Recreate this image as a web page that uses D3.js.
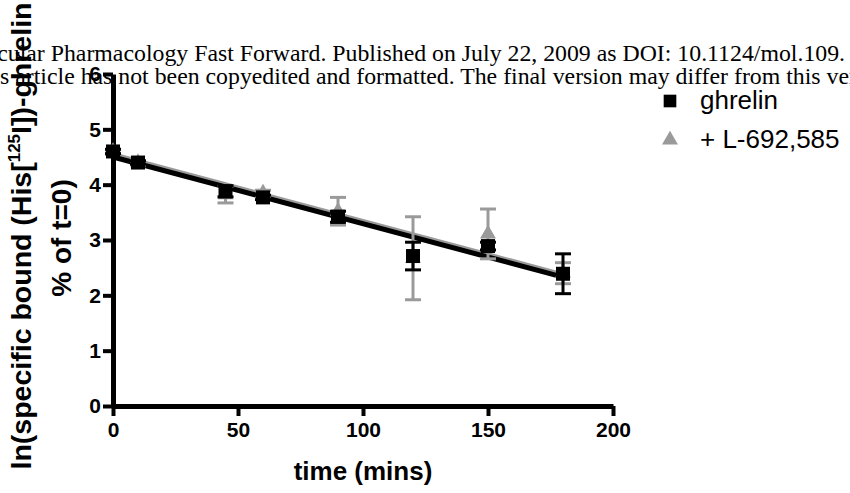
<!DOCTYPE html>
<html>
<head>
<meta charset="utf-8">
<script src="https://cdn.jsdelivr.net/npm/d3@7"></script>
<style>
  body { margin: 0; background: #fff; }
  svg { display: block; }
  text { font-family: "Liberation Sans", Arial, sans-serif; }
</style>
</head>
<body>
<script>
// time points (mins)
let times = [0, 10, 45, 60, 90, 120, 150, 180];
// ghrelin alone: ln(% bound) and error
let ghrelinMean = [4.60, 4.40, 3.88, 3.77, 3.42, 2.71, 2.89, 2.39];
let ghrelinErr = [0.04, 0.03, 0.10, 0.04, 0.10, 0.25, 0.07, 0.36];
// + L-692,585
let l692Mean = [4.60, 4.40, 3.82, 3.85, 3.52, 2.67, 3.11, 2.40];
let l692Err = [0.03, 0.03, 0.15, 0.05, 0.25, 0.75, 0.45, 0.19];
// fitted lines [start, end]
let fitTimes = [0, 180];
let ghrelinFit = [4.50, 2.33];
let l692Fit = [4.54, 2.37];

let xTicks = [0, 50, 100, 150, 200];
let yTicks = [0, 1, 2, 3, 4, 5, 6];
let legendLabels = ['ghrelin', '+ L-692,585'];
let watermark = [
  'Molecular Pharmacology Fast Forward. Published on July 22, 2009 as DOI: 10.1124/mol.109.',
  'This article has not been copyedited and formatted. The final version may differ from this version.'
];

let W = 850, H = 493;
let grey = '#9a9a9a';

let svg = d3.select('body').append('svg').attr('width', W).attr('height', H);

let x = d3.scaleLinear().domain([0, 200]).range([113, 613]);
let y = d3.scaleLinear().domain([0, 6]).range([406, 74]);

// watermark text (behind everything)
svg.selectAll('.wm').data(watermark).enter().append('text')
  .attr('class', 'wm')
  .attr('x', (d, i) => i == 0 ? -53 : -33)
  .attr('y', (d, i) => 61 + i * 23)
  .style('font-family', '"Liberation Serif", "Times New Roman", serif')
  .style('font-size', '23.8px')
  .text(d => d);

// axes
let xAxis = svg.append('g').attr('transform', 'translate(0,' + y(0) + ')')
  .call(d3.axisBottom(x).tickValues(xTicks).tickSize(10).tickSizeOuter(0).tickPadding(6));
let yAxis = svg.append('g').attr('transform', 'translate(' + x(0) + ',0)')
  .call(d3.axisLeft(y).tickValues(yTicks).tickFormat(d3.format('d')).tickSize(10).tickSizeOuter(0).tickPadding(2));

[xAxis, yAxis].forEach(function(a) {
  a.select('.domain').attr('stroke', '#000').attr('stroke-width', 5);
  a.selectAll('.tick line').attr('stroke', '#000').attr('stroke-width', 4);
  a.selectAll('.tick text').attr('fill', '#000')
    .style('font-size', '21px').style('font-weight', 'bold');
});

// fitted lines
let line = d3.line().x(d => x(d[0])).y(d => y(d[1]));
svg.append('path').datum(fitTimes.map((t, i) => [t, l692Fit[i]]))
  .attr('d', line).attr('stroke', grey).attr('stroke-width', 5).attr('fill', 'none');
svg.append('path').datum(fitTimes.map((t, i) => [t, ghrelinFit[i]]))
  .attr('d', line).attr('stroke', '#000').attr('stroke-width', 5).attr('fill', 'none');

function drawSeries(means, errs, color, symbol, size, cls) {
  let data = times.map((t, i) => ({t: t, m: means[i], e: errs[i]}));
  let g = svg.append('g').attr('class', cls);
  let eb = g.selectAll('.eb').data(data).enter().append('g').attr('class', 'eb');
  eb.append('line')
    .attr('x1', d => x(d.t)).attr('x2', d => x(d.t))
    .attr('y1', d => y(d.m + d.e)).attr('y2', d => y(d.m - d.e))
    .attr('stroke', color).attr('stroke-width', 3);
  [1, -1].forEach(function(s) {
    eb.append('line')
      .attr('x1', d => x(d.t) - 8).attr('x2', d => x(d.t) + 8)
      .attr('y1', d => y(d.m + s * d.e)).attr('y2', d => y(d.m + s * d.e))
      .attr('stroke', color).attr('stroke-width', 3);
  });
  g.selectAll('.pt').data(data).enter().append('path')
    .attr('class', 'pt')
    .attr('transform', d => 'translate(' + x(d.t) + ',' + y(d.m) + ')')
    .attr('d', d3.symbol().type(symbol).size(size))
    .attr('fill', color);
}

drawSeries(l692Mean, l692Err, grey, d3.symbolTriangle, 110, 'l692');
drawSeries(ghrelinMean, ghrelinErr, '#000', d3.symbolSquare, 196, 'ghrelin');

// legend
let legend = svg.append('g').attr('class', 'legend');
let legendRows = [
  {label: legendLabels[0], color: '#000', symbol: d3.symbolSquare, size: 160},
  {label: legendLabels[1], color: grey, symbol: d3.symbolTriangle, size: 110}
];
legendRows.forEach(function(r, i) {
  let ly = 101 + i * 39;
  legend.append('path')
    .attr('transform', 'translate(670,' + ly + ')')
    .attr('d', d3.symbol().type(r.symbol).size(r.size))
    .attr('fill', r.color);
  legend.append('text')
    .attr('x', 700).attr('y', ly + 8)
    .style('font-size', '26px')
    .text(r.label);
});

// axis titles
svg.append('text')
  .attr('x', x(100)).attr('y', 480)
  .attr('text-anchor', 'middle')
  .style('font-size', '26px').style('font-weight', 'bold')
  .text('time (mins)');

let yt = svg.append('text')
  .attr('transform', 'translate(31,236) rotate(-90)')
  .attr('text-anchor', 'middle')
  .style('font-size', '28.5px').style('font-weight', 'bold');
yt.append('tspan').text('ln(specific bound (His[');
yt.append('tspan').attr('dy', -11).style('font-size', '17px').text('125');
yt.append('tspan').attr('dy', 11).text('I])-ghrelin');

svg.append('text')
  .attr('transform', 'translate(71,238) rotate(-90)')
  .attr('text-anchor', 'middle')
  .style('font-size', '28px').style('font-weight', 'bold')
  .text('% of t=0)');
</script>
</body>
</html>
